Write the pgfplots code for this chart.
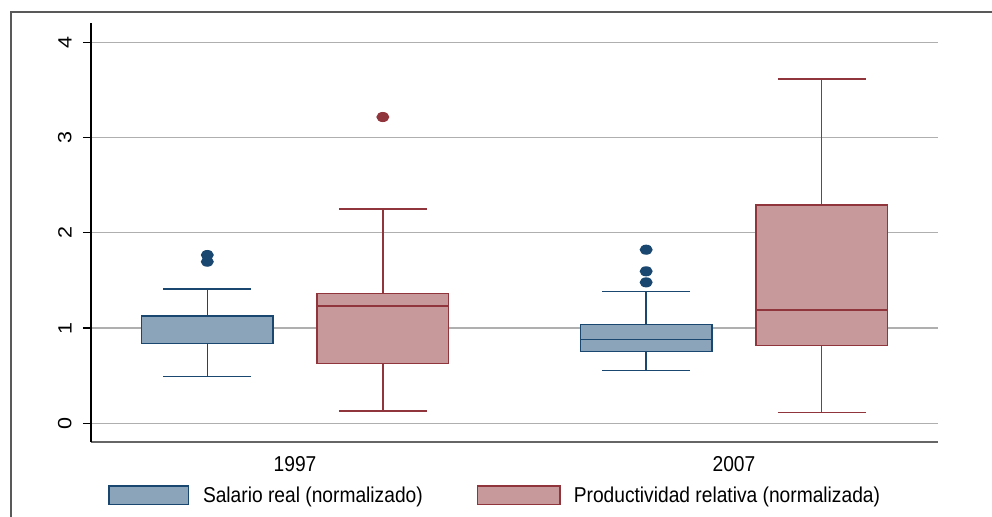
\documentclass[border=0pt]{standalone}
\usepackage{fontspec}
\setmainfont{Liberation Sans}
\usepackage{pgfplots}
\pgfplotsset{compat=1.18}
\usepgfplotslibrary{statistics}

\definecolor{navy}{RGB}{26,71,111}
\definecolor{navyfill}{RGB}{140,164,185}
\definecolor{maroon}{RGB}{144,53,59}
\definecolor{maroonfill}{RGB}{200,153,155}
\definecolor{gridgray}{RGB}{175,175,175}

\newcommand{\lbl}{\fontsize{9.6}{11}\selectfont}

\begin{document}
\begin{tikzpicture}
% page = 992 x 516 px, 1 px = 0.5pt
\path[use as bounding box] (0,0) rectangle (496pt,-258pt);
\draw[line width=1pt, black!65] (5.25pt,-300pt) -- (5.25pt,-6pt) -- (520pt,-6pt);

\begin{axis}[
    at={(45.5pt,-220.85pt)}, anchor=south west,
    width=423.5pt, height=209.35pt, scale only axis,
    xmin=0.535, xmax=2.465,
    ymin=-0.193, ymax=4.203,
    axis x line*=bottom, axis y line*=left,
    x axis line style={-, draw=black!60, line width=1pt},
    y axis line style={-, draw=black, line width=0.7pt},
    xtick={1,2}, xticklabels={1997,2007},
    xtick style={draw=none},
    ytick={0,1,2,3,4},
    tick align=outside, major tick length=4pt,
    ytick style={black, line width=0.6pt},
    ymajorgrids, major grid style={gridgray, line width=0.6pt},
    /pgf/number format/assume math mode=true,
    ticklabel style={font=\lbl, yscale=1.12},
    yticklabel style={rotate=90, anchor=south, yshift=2.2pt},
    xticklabel style={yshift=0.5pt},
    boxplot/draw direction=y,
    boxplot/box extend=0.3, boxplot/whisker extend=0.2,
]
% Salario real 1997
\addplot[boxplot prepared={draw position=0.8,
    lower whisker=0.49, lower quartile=0.84, median=1.127,
    upper quartile=1.127, upper whisker=1.41},
    draw=navy, fill=navyfill, line width=0.7pt,
    mark=*, mark size=2.5pt,
    mark options={solid, draw=navy, fill=navy, xscale=1.15, yscale=0.87}]
    coordinates {(0,1.767) (0,1.697)};
% Productividad relativa 1997
\addplot[boxplot prepared={draw position=1.2,
    lower whisker=0.129, lower quartile=0.626, median=1.231,
    upper quartile=1.365, upper whisker=2.25},
    draw=maroon, fill=maroonfill, line width=0.7pt,
    mark=*, mark size=2.5pt,
    mark options={solid, draw=maroon, fill=maroon, xscale=1.15, yscale=0.87}]
    coordinates {(0,3.216)};
% Salario real 2007
\addplot[boxplot prepared={draw position=1.8,
    lower whisker=0.556, lower quartile=0.756, median=0.878,
    upper quartile=1.035, upper whisker=1.382},
    draw=navy, fill=navyfill, line width=0.7pt,
    mark=*, mark size=2.5pt,
    mark options={solid, draw=navy, fill=navy, xscale=1.15, yscale=0.87}]
    coordinates {(0,1.823) (0,1.596) (0,1.48)};
% Productividad relativa 2007
\addplot[boxplot prepared={draw position=2.2,
    lower whisker=0.115, lower quartile=0.815, median=1.19,
    upper quartile=2.292, upper whisker=3.615},
    draw=maroon, fill=maroonfill, line width=0.7pt]
    coordinates {};
\end{axis}

% legend
\filldraw[fill=navyfill, draw=navy, line width=0.7pt] (54.5pt,-243pt) rectangle (94.3pt,-252.2pt);
\node[anchor=base west, inner sep=0pt, font=\lbl, yscale=1.12] at (101.3pt,-251.3pt) {Salario real (normalizado)};
\filldraw[fill=maroonfill, draw=maroon, line width=0.7pt] (238.7pt,-243pt) rectangle (280pt,-252.2pt);
\node[anchor=base west, inner sep=0pt, font=\lbl, yscale=1.12] at (286.7pt,-251.3pt) {Productividad relativa (normalizada)};
\end{tikzpicture}
\end{document}
